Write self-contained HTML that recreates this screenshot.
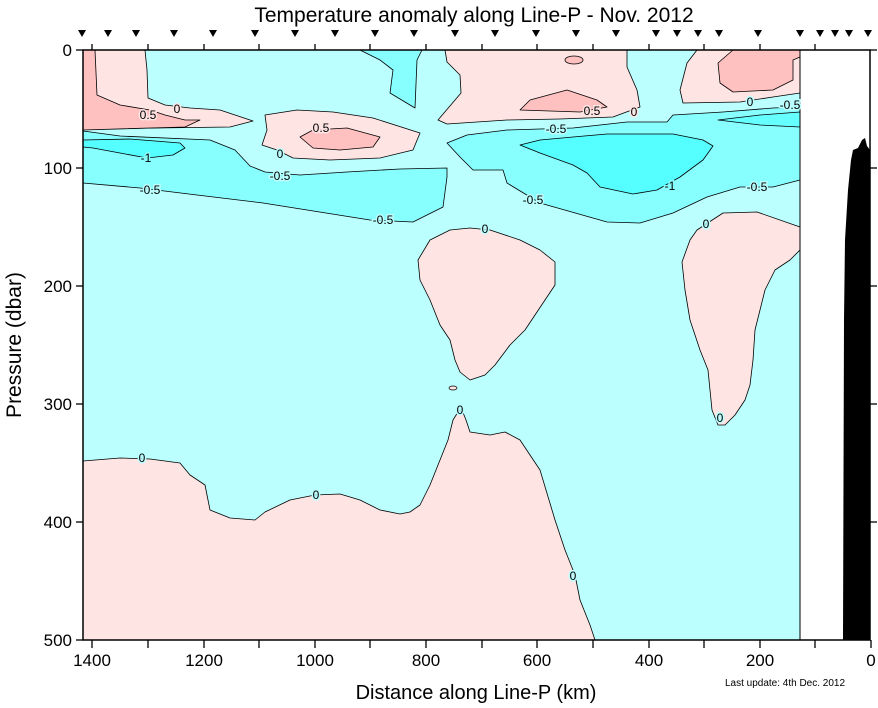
<!DOCTYPE html>
<html><head><style>
html,body{margin:0;padding:0;background:#fff;}
svg{display:block;font-family:"Liberation Sans",Arial,sans-serif;}
</style></head><body>
<svg width="878" height="708" viewBox="0 0 878 708" xmlns="http://www.w3.org/2000/svg">
<rect width="878" height="708" fill="#fff"/>
<text x="474" y="22" font-size="21" text-anchor="middle">Temperature anomaly along Line-P - Nov. 2012</text>
<g fill="#000">
<path id="t" d="M-4,0 L4,0 L0,7Z" transform="translate(82,30)"/>
<path d="M-4,0 L4,0 L0,7Z" transform="translate(108,30)"/>
<path d="M-4,0 L4,0 L0,7Z" transform="translate(136,30)"/>
<path d="M-4,0 L4,0 L0,7Z" transform="translate(174,30)"/>
<path d="M-4,0 L4,0 L0,7Z" transform="translate(213,30)"/>
<path d="M-4,0 L4,0 L0,7Z" transform="translate(255,30)"/>
<path d="M-4,0 L4,0 L0,7Z" transform="translate(295,30)"/>
<path d="M-4,0 L4,0 L0,7Z" transform="translate(335,30)"/>
<path d="M-4,0 L4,0 L0,7Z" transform="translate(375,30)"/>
<path d="M-4,0 L4,0 L0,7Z" transform="translate(414,30)"/>
<path d="M-4,0 L4,0 L0,7Z" transform="translate(455,30)"/>
<path d="M-4,0 L4,0 L0,7Z" transform="translate(495,30)"/>
<path d="M-4,0 L4,0 L0,7Z" transform="translate(536,30)"/>
<path d="M-4,0 L4,0 L0,7Z" transform="translate(576,30)"/>
<path d="M-4,0 L4,0 L0,7Z" transform="translate(616,30)"/>
<path d="M-4,0 L4,0 L0,7Z" transform="translate(656,30)"/>
<path d="M-4,0 L4,0 L0,7Z" transform="translate(677,30)"/>
<path d="M-4,0 L4,0 L0,7Z" transform="translate(698,30)"/>
<path d="M-4,0 L4,0 L0,7Z" transform="translate(719,30)"/>
<path d="M-4,0 L4,0 L0,7Z" transform="translate(758,30)"/>
<path d="M-4,0 L4,0 L0,7Z" transform="translate(800,30)"/>
<path d="M-4,0 L4,0 L0,7Z" transform="translate(820,30)"/>
<path d="M-4,0 L4,0 L0,7Z" transform="translate(835,30)"/>
<path d="M-4,0 L4,0 L0,7Z" transform="translate(849,30)"/>
<path d="M-4,0 L4,0 L0,7Z" transform="translate(868,30)"/>
</g>
<!-- data background -->
<rect x="83" y="50" width="717" height="590" fill="#bbffff"/>
<g stroke="#000" stroke-width="0.8" stroke-linejoin="round">
<!-- top-left pink -->
<polygon fill="#ffe4e4" points="83,50 145,50 147,70 148,98 165,105 190,108 220,110 253,121 230,127 83,129"/>
<polygon fill="#ffc0c0" points="83,50 95,50 97,95 120,105 150,110 165,115 185,120 200,120 185,127 83,130"/>
<!-- left -0.5 band -->
<polygon fill="#88ffff" points="83,131 120,136 210,140 235,150 250,166 265,172 300,175 347,172 400,169 447,168 447,177 443,207 413,222 370,220 263,203 197,195 140,188 83,183"/>
<polygon fill="#55ffff" points="83,140 130,139 180,143 185,148 173,155 147,158 120,153 93,148 83,147"/>
<!-- middle pink blob -->
<polygon fill="#ffe4e4" points="265,115 297,110 333,112 373,118 420,133 413,150 380,158 330,160 293,158 277,150 262,145 267,130"/>
<polygon fill="#ffc0c0" points="300,137 313,130 347,128 380,137 373,147 340,150 313,148"/>
<!-- top cyan tongue -->
<polygon fill="#88ffff" points="360,50 380,60 393,70 390,93 415,108 417,60 422,50"/>
<!-- top middle pink -->
<polygon fill="#ffe4e4" points="445,50 447,62 460,75 461,93 438,120 447,124 507,120 560,119 613,117 640,107 637,90 627,67 627,50"/>
<polygon fill="#ffc0c0" points="520,110 530,100 567,90 597,100 607,107 580,112"/>
<ellipse cx="574" cy="60" rx="9" ry="4" fill="#ffc0c0"/>
<!-- top right pink -->
<polygon fill="#ffe4e4" points="697,50 687,63 680,90 683,103 740,102 773,97 800,93 800,50"/>
<polygon fill="#ffc0c0" points="733,50 718,63 720,83 733,92 773,90 793,80 793,60 800,57 800,50"/>
<!-- right -0.5 region -->
<polygon fill="#88ffff" points="447,143 467,135 507,130 540,129 573,128 627,122 667,122 673,115 723,112 773,108 800,107 800,180 773,187 740,187 707,197 673,213 640,223 607,222 540,203 507,183 503,170 473,170 460,157"/>
<polygon fill="#66ffff" points="718,120 760,115 800,112 800,127 760,125"/>
<polygon fill="#55ffff" points="520,145 540,140 573,137 607,134 673,134 703,140 713,146 703,160 680,177 657,190 633,194 600,187 587,173 573,165 540,153"/>
<!-- middle deep pink blob -->
<polygon fill="#ffe4e4" points="418,260 430,240 450,230 470,228 490,230 520,240 540,250 555,262 555,285 545,300 525,330 510,345 495,365 485,375 470,380 460,372 455,360 450,340 440,325 430,300 420,280"/>
<!-- right deep pink blob -->
<polygon fill="#ffe4e4" points="697,230 723,213 757,212 800,227 800,250 790,260 775,270 765,290 760,310 755,330 753,360 750,385 745,400 735,415 725,425 718,425 712,410 710,390 708,370 700,350 690,320 685,290 682,262 690,240"/>
<!-- bottom pink -->
<polygon fill="#ffe4e4" points="83,461 120,458 150,459 180,463 190,475 205,485 210,510 230,518 255,520 265,512 290,500 315,495 340,494 360,500 380,510 400,514 410,512 420,505 430,485 440,460 448,440 453,420 458,412 462,410 466,420 470,432 490,435 505,432 520,440 540,470 555,520 565,550 575,575 580,600 590,625 595,640 83,640"/>
</g>
<ellipse cx="453" cy="388" rx="4" ry="2" fill="#ffe4e4" stroke="#000" stroke-width="0.7"/>
<line x1="800" y1="50" x2="800" y2="640" stroke="#000" stroke-width="1"/>
<!-- contour labels -->
<g font-size="12" text-anchor="middle" fill="#000">
<text x="148" y="119" style="paint-order:stroke" stroke="#ffe4e4" stroke-width="3">0.5</text>
<text x="177" y="113" style="paint-order:stroke" stroke="#ffe4e4" stroke-width="3">0</text>
<text x="146" y="162" style="paint-order:stroke" stroke="#88ffff" stroke-width="3">-1</text>
<text x="280" y="158" style="paint-order:stroke" stroke="#bbffff" stroke-width="3">0</text>
<text x="321" y="132" style="paint-order:stroke" stroke="#ffe4e4" stroke-width="3">0.5</text>
<text x="280" y="180" style="paint-order:stroke" stroke="#bbffff" stroke-width="3">-0.5</text>
<text x="150" y="194" style="paint-order:stroke" stroke="#bbffff" stroke-width="3">-0.5</text>
<text x="383" y="224" style="paint-order:stroke" stroke="#bbffff" stroke-width="3">-0.5</text>
<text x="592" y="115" style="paint-order:stroke" stroke="#ffe4e4" stroke-width="3">0.5</text>
<text x="634" y="116" style="paint-order:stroke" stroke="#ffe4e4" stroke-width="3">0</text>
<text x="556" y="133" style="paint-order:stroke" stroke="#bbffff" stroke-width="3">-0.5</text>
<text x="750" y="106" style="paint-order:stroke" stroke="#bbffff" stroke-width="3">0</text>
<text x="790" y="109" style="paint-order:stroke" stroke="#bbffff" stroke-width="3">-0.5</text>
<text x="670" y="190" style="paint-order:stroke" stroke="#88ffff" stroke-width="3">-1</text>
<text x="533" y="204" style="paint-order:stroke" stroke="#bbffff" stroke-width="3">-0.5</text>
<text x="757" y="191" style="paint-order:stroke" stroke="#bbffff" stroke-width="3">-0.5</text>
<text x="485" y="233" style="paint-order:stroke" stroke="#bbffff" stroke-width="3">0</text>
<text x="706" y="228" style="paint-order:stroke" stroke="#bbffff" stroke-width="3">0</text>
<text x="720" y="422" style="paint-order:stroke" stroke="#bbffff" stroke-width="3">0</text>
<text x="142" y="462" style="paint-order:stroke" stroke="#bbffff" stroke-width="3">0</text>
<text x="316" y="499" style="paint-order:stroke" stroke="#bbffff" stroke-width="3">0</text>
<text x="460" y="414" style="paint-order:stroke" stroke="#bbffff" stroke-width="3">0</text>
<text x="573" y="580" style="paint-order:stroke" stroke="#bbffff" stroke-width="3">0</text>
</g>
<!-- bathymetry -->
<polygon fill="#000" points="843,640 844,320 845,240 848,190 851,160 853,150 858,148 862,140 865,138 867,146 870,150 870,640"/>
<!-- frame -->
<rect x="83" y="50" width="787" height="590" fill="none" stroke="#000" stroke-width="1.5"/>
<g stroke="#000" stroke-width="1.3">
<line x1="92" y1="640" x2="92" y2="648"/><line x1="148" y1="640" x2="148" y2="648"/>
<line x1="204" y1="640" x2="204" y2="648"/><line x1="259" y1="640" x2="259" y2="648"/>
<line x1="315" y1="640" x2="315" y2="648"/><line x1="370" y1="640" x2="370" y2="648"/>
<line x1="426" y1="640" x2="426" y2="648"/><line x1="482" y1="640" x2="482" y2="648"/>
<line x1="537" y1="640" x2="537" y2="648"/><line x1="593" y1="640" x2="593" y2="648"/>
<line x1="649" y1="640" x2="649" y2="648"/><line x1="704" y1="640" x2="704" y2="648"/>
<line x1="760" y1="640" x2="760" y2="648"/><line x1="815" y1="640" x2="815" y2="648"/>
<line x1="871" y1="640" x2="871" y2="648"/>
<line x1="92" y1="50" x2="92" y2="44"/><line x1="148" y1="50" x2="148" y2="44"/>
<line x1="204" y1="50" x2="204" y2="44"/><line x1="259" y1="50" x2="259" y2="44"/>
<line x1="315" y1="50" x2="315" y2="44"/><line x1="370" y1="50" x2="370" y2="44"/>
<line x1="426" y1="50" x2="426" y2="44"/><line x1="482" y1="50" x2="482" y2="44"/>
<line x1="537" y1="50" x2="537" y2="44"/><line x1="593" y1="50" x2="593" y2="44"/>
<line x1="649" y1="50" x2="649" y2="44"/><line x1="704" y1="50" x2="704" y2="44"/>
<line x1="760" y1="50" x2="760" y2="44"/><line x1="815" y1="50" x2="815" y2="44"/>
<line x1="76" y1="50" x2="83" y2="50"/><line x1="76" y1="168" x2="83" y2="168"/>
<line x1="76" y1="286" x2="83" y2="286"/><line x1="76" y1="404" x2="83" y2="404"/>
<line x1="76" y1="522" x2="83" y2="522"/><line x1="76" y1="640" x2="83" y2="640"/>
<line x1="870" y1="168" x2="877" y2="168"/><line x1="870" y1="286" x2="877" y2="286"/>
<line x1="870" y1="404" x2="877" y2="404"/><line x1="870" y1="522" x2="877" y2="522"/>
<line x1="870" y1="50" x2="877" y2="50"/>
</g>
<g font-size="17" text-anchor="end">
<text x="72" y="56">0</text><text x="72" y="174">100</text><text x="72" y="292">200</text>
<text x="72" y="410">300</text><text x="72" y="528">400</text><text x="72" y="646">500</text>
</g>
<g font-size="17" text-anchor="middle">
<text x="92" y="666">1400</text><text x="204" y="666">1200</text><text x="315" y="666">1000</text>
<text x="426" y="666">800</text><text x="537" y="666">600</text><text x="649" y="666">400</text>
<text x="760" y="666">200</text><text x="871" y="666">0</text>
</g>
<text x="476" y="699" font-size="20" text-anchor="middle">Distance along Line-P (km)</text>
<text x="785" y="686" font-size="10" text-anchor="middle">Last update: 4th Dec. 2012</text>
<text transform="translate(21,345) rotate(-90)" font-size="21" text-anchor="middle">Pressure (dbar)</text>
</svg>
</body></html>
